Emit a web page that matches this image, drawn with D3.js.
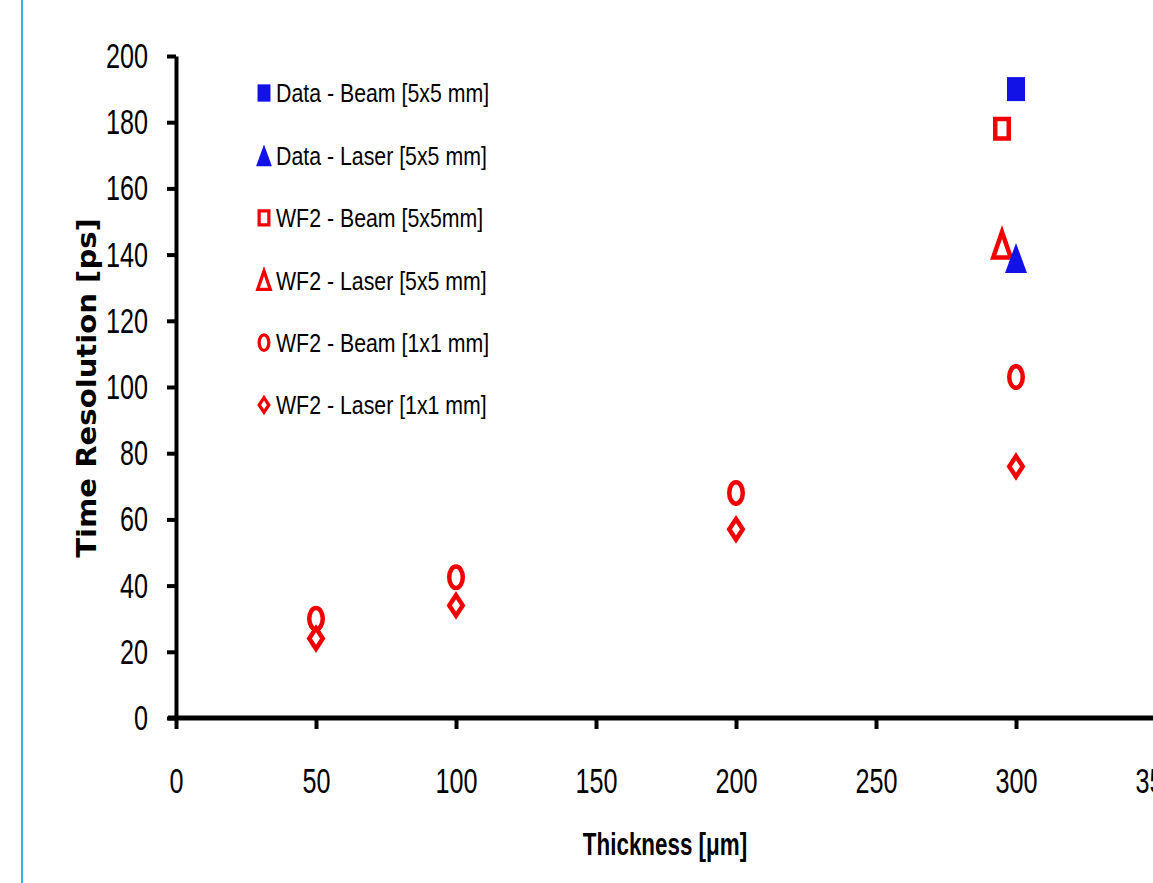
<!DOCTYPE html>
<html><head><meta charset="utf-8">
<script src="https://cdn.jsdelivr.net/npm/d3@7"></script>
<style>
body{margin:0;background:#fff;}
svg{display:block;}
</style></head>
<body><svg id="chart" width="1153" height="883"></svg>
<script>
// ---- data ----
const xTicks = [0, 50, 100, 150, 200, 250, 300, 350];
const yTicks = [0, 20, 40, 60, 80, 100, 120, 140, 160, 180, 200];
const dataBeam5x5X = [300];
const dataBeam5x5Y = [190];
const dataLaser5x5X = [300];
const dataLaser5x5Y = [139];
const wf2Beam5x5X = [295];
const wf2Beam5x5Y = [178];
const wf2Laser5x5X = [295];
const wf2Laser5x5Y = [143];
const wf2Beam1x1X = [50, 100, 200, 300];
const wf2Beam1x1Y = [30, 42.5, 68, 103];
const wf2Laser1x1X = [50, 100, 200, 300];
const wf2Laser1x1Y = [24, 34, 57, 76];
const seriesNames = ["Data - Beam [5x5 mm]", "Data - Laser [5x5 mm]", "WF2 - Beam [5x5mm]",
  "WF2 - Laser [5x5 mm]", "WF2 - Beam [1x1 mm]", "WF2 - Laser [1x1 mm]"];
const xTitle = "Thickness [\u03bcm]";
const yTitle = "Time Resolution [ps]";

const blue = "#1212e6", red = "#f00000";
const FONT = "Liberation Sans, Arial, sans-serif";
const series = [
  {name: seriesNames[0], xs: dataBeam5x5X, ys: dataBeam5x5Y, shape: "square", fill: true, color: blue},
  {name: seriesNames[1], xs: dataLaser5x5X, ys: dataLaser5x5Y, shape: "triangle", fill: true, color: blue},
  {name: seriesNames[2], xs: wf2Beam5x5X, ys: wf2Beam5x5Y, shape: "square", fill: false, color: red},
  {name: seriesNames[3], xs: wf2Laser5x5X, ys: wf2Laser5x5Y, shape: "triangle", fill: false, color: red},
  {name: seriesNames[4], xs: wf2Beam1x1X, ys: wf2Beam1x1Y, shape: "circle", fill: false, color: red},
  {name: seriesNames[5], xs: wf2Laser1x1X, ys: wf2Laser1x1Y, shape: "diamond", fill: false, color: red}
];

const svg = d3.select("#chart");
// left blue frame line
svg.append("line").attr("x1", 22).attr("x2", 22).attr("y1", 0).attr("y2", 883)
  .attr("stroke", "#30b4ee").attr("stroke-width", 2);

const x = d3.scaleLinear().domain([0, 350]).range([176, 1156]);
const y = d3.scaleLinear().domain([0, 200]).range([718, 56]);

function squeeze(sel, sx) {
  sel.each(function () {
    const t = d3.select(this);
    const tx = +t.attr("x") || 0, ty = +t.attr("y") || 0;
    t.attr("x", 0).attr("y", 0).attr("transform", `translate(${tx},${ty}) scale(${sx},1)`);
  });
}

// y axis
const gy = svg.append("g").attr("transform", "translate(176,0)")
  .call(d3.axisLeft(y).tickValues(yTicks).tickSize(9).tickSizeOuter(0).tickPadding(19));
gy.attr("font-family", FONT);
gy.select(".domain").attr("stroke", "#000").attr("stroke-width", 4);
gy.selectAll(".tick line").attr("stroke", "#000").attr("stroke-width", 4);
gy.selectAll(".tick text").attr("font-size", 36).attr("fill", "#000");
squeeze(gy.selectAll(".tick text"), 0.7);

// x axis
const gx = svg.append("g").attr("transform", "translate(0,718)")
  .call(d3.axisBottom(x).tickValues(xTicks).tickSize(11).tickSizeOuter(0).tickPadding(38));
gx.attr("font-family", FONT);
gx.select(".domain").attr("stroke", "#000").attr("stroke-width", 5).attr("d", "M168,0H1153");
gx.selectAll(".tick line").attr("stroke", "#000").attr("stroke-width", 4);
gx.selectAll(".tick text").attr("font-size", 36).attr("fill", "#000");
squeeze(gx.selectAll(".tick text"), 0.7);

// titles
svg.append("text").attr("transform", "translate(665,855) scale(0.7,1)")
  .attr("text-anchor", "middle").attr("font-family", FONT)
  .attr("font-size", 32).attr("font-weight", "bold").text(xTitle);
svg.append("text").attr("transform", "translate(96,388) rotate(-90) scale(1.12,1)")
  .attr("text-anchor", "middle").attr("font-family", "DejaVu Sans, sans-serif")
  .attr("font-size", 26).attr("font-weight", "bold").text(yTitle);

function markerPath(shape, w, h) {
  const a = w / 2, b = h / 2;
  if (shape === "square") return `M${-a},${-b}H${a}V${b}H${-a}Z`;
  if (shape === "triangle") return `M0,${-b}L${a},${b}H${-a}Z`;
  return `M0,${-b}L${a},0L0,${b}L${-a},0Z`;
}
function drawMarker(g, s, cx, cy, scale) {
  const sz = {square: [18, 24], triangle: [22, 30], circle: [18, 26], diamond: [18, 25]}[s.shape];
  const w = sz[0] * scale, h = sz[1] * scale;
  const sw = s.fill ? 0 : 4.5 * scale;
  let el;
  if (s.shape === "circle") {
    el = g.append("ellipse").attr("cx", cx).attr("cy", cy).attr("rx", w / 2 - sw / 2).attr("ry", h / 2 - sw / 2);
  } else {
    const ww = s.fill ? w : w - sw, hh = s.fill ? h : h - sw;
    el = g.append("path").attr("d", markerPath(s.shape, ww, hh)).attr("transform", `translate(${cx},${cy})`);
  }
  el.attr("fill", s.fill ? s.color : "none").attr("stroke", s.fill ? "none" : s.color)
    .attr("stroke-width", sw).attr("stroke-linejoin", "miter");
}

const gm = svg.append("g");
[4, 5, 2, 3, 0, 1].forEach(i => {
  const s = series[i];
  s.xs.forEach((xv, j) => drawMarker(gm, s, x(xv), y(s.ys[j]), 1));
});

// legend
const lg = svg.append("g");
series.forEach((s, i) => {
  const cy = 93 + i * 62.4;
  drawMarker(lg, s, 264, cy, 0.72);
  lg.append("text").attr("transform", `translate(276,${cy}) scale(0.82,1)`).attr("dy", "0.36em")
    .attr("font-family", FONT).attr("font-size", 26).attr("fill", "#000").text(s.name);
});
</script></body></html>
